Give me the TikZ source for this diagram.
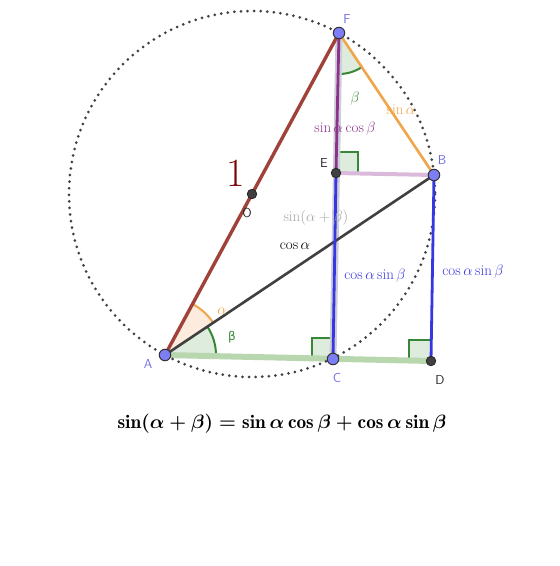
\RequirePackage{fix-cm}
\documentclass[tikz,border=0pt]{standalone}
\usepackage{amsmath}
\usepackage{fontspec}
\newfontfamily\grkfont{DejaVu Sans}
\usetikzlibrary{angles}
\definecolor{cAF}{RGB}{160,66,58}
\definecolor{cOr}{RGB}{240,165,75}
\definecolor{cPu}{RGB}{140,50,140}
\definecolor{cPk}{RGB}{218,185,218}
\definecolor{cBl}{RGB}{55,55,225}
\definecolor{cGrL}{RGB}{185,215,175}
\definecolor{cGr}{RGB}{55,135,55}
\definecolor{cGrF}{RGB}{222,236,222}
\definecolor{cOrF}{RGB}{253,236,222}
\definecolor{cUnder}{RGB}{205,205,215}
\definecolor{cPt}{RGB}{125,125,245}
\definecolor{cLab}{RGB}{110,110,220}
\definecolor{cOne}{RGB}{125,5,5}
\tikzset{
  bpt/.style={circle,fill=cPt,draw=black!80,line width=1pt,inner sep=0pt,minimum size=11.5pt},
  dpt/.style={circle,fill=black!75,draw=black!85,line width=0.8pt,inner sep=0pt,minimum size=9.5pt},
  plab/.style={font=\sffamily\fontsize{13}{15}\selectfont},
  mlab/.style={font=\fontsize{15}{18}\selectfont},
  rmark/.style={draw=cGr,fill=cGrF,line width=1.8pt},
}
\begin{document}
\begin{tikzpicture}[x=1pt,y=-1pt]
\useasboundingbox (0,0) rectangle (560,566);
\coordinate (A) at (165,355);
\coordinate (F) at (339,33);
\coordinate (B) at (434,175);
\coordinate (C) at (333,359);
\coordinate (D) at (431,361);
\coordinate (E) at (336,173);
\coordinate (O) at (252,194);
% angles
\pic[draw=cOr,fill=cOrF,line width=2pt,angle radius=58pt] {angle=B--A--F};
\pic[draw=cGr,fill=cGrF,line width=2pt,angle radius=51pt] {angle=D--A--B};
\pic[draw=cGr,fill=cGrF,line width=2pt,angle radius=41pt] {angle=E--F--B};
% right angle marks
\draw[rmark] (336,173) rectangle (358,152);
\draw[rmark] (333,359) rectangle (312,338);
\draw[rmark] (431,361) rectangle (409,340);
% base lines
\draw[cGrL,line width=6pt] (A) -- (D);
\draw[cUnder,line width=7pt] (F) -- (C);
\draw[cPk,line width=4pt] (E) -- (B);
% circle
\draw[black!75,line width=3pt,line cap=round,dash pattern=on 0pt off 6.6pt] (O) circle (183);
% lines
\draw[cAF,line width=3.4pt] (A) -- (F);
\draw[black!75,line width=2.6pt] (A) -- (B);
\draw[cOr,line width=2.6pt] (F) -- (B);
\draw[cPu,line width=2.8pt] (F) -- (E);
\draw[cBl,line width=2.8pt] (E) -- (C);
\draw[cBl,line width=2.8pt] (B) -- (D);
% points
\node[bpt] (pA) at (A) {};
\node[bpt] (pF) at (F) {};
\node[bpt] (pB) at (B) {};
\node[bpt] (pC) at (C) {};
\node[dpt] (pD) at (D) {};
\node[dpt] (pE) at (E) {};
\node[dpt] (pO) at (O) {};
% point labels
\node[plab,text=cLab] (lA) at (148,364) {A};
\node[plab,text=cLab] (lF) at (347,19) {F};
\node[plab,text=cLab] (lB) at (442,160) {B};
\node[plab,text=cLab] (lC) at (337,378) {C};
\node[plab,text=black!85] (lD) at (440,380) {D};
\node[plab,text=black!85] (lE) at (324,163) {E};
\node[plab,text=black!85] (lO) at (247,213) {O};
% labels
\node[text=cOne,font=\fontsize{40}{44}\selectfont] (one) at (236,173) {1};
\node[mlab,text=cOr] (la) at (222,311) {$\alpha$};
\node[text=cGr,font=\grkfont\fontsize{12}{14}\selectfont] (lb) at (232,337) {β};
\node[mlab,text=cGr] (lbF) at (355,99) {$\beta$};
\node[mlab,text=cOr] (lsa) at (401,110) {$\sin\alpha$};
\node[mlab,text=cPu] (lsacb) at (345,129) {$\sin\alpha\cos\beta$};
\node[mlab,text=black!35] (lsab) at (316,218) {$\sin(\alpha+\beta)$};
\node[mlab,text=black] (lca) at (295,246) {$\cos\alpha$};
\node[mlab,text=cBl] (lcs1) at (375,276) {$\cos\alpha\sin\beta$};
\node[mlab,text=cBl] (lcs2) at (473,272) {$\cos\alpha\sin\beta$};
\node[font=\fontsize{19.3}{23}\selectfont] (eq) at (282,424) {$\boldsymbol{\sin(\alpha+\beta)=\sin\alpha\cos\beta+\cos\alpha\sin\beta}$};
\end{tikzpicture}
\end{document}
